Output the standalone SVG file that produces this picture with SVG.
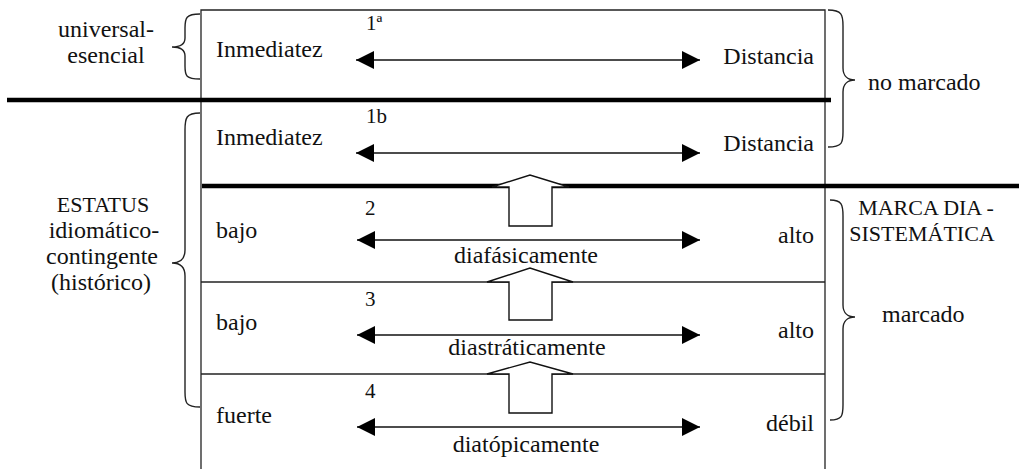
<svg xmlns="http://www.w3.org/2000/svg" width="1019" height="469" viewBox="0 0 1019 469">
<style>
text{font-family:"Liberation Serif","Times New Roman",serif;font-size:24px;fill:#111}
.num{font-size:21px}
.caps{font-size:22px}
.mid{text-anchor:middle}
.end{text-anchor:end}
.thin{stroke:#222;stroke-width:1.3;fill:none}
.thick{stroke:#000;stroke-width:4.5;fill:none}
.brace{stroke:#222;stroke-width:1.4;fill:none}
.dbl{stroke:#111;stroke-width:1.4;fill:none;marker-start:url(#ah);marker-end:url(#ah)}
.block{fill:#fff;stroke:#111;stroke-width:1.4}
</style>
<defs>
<marker id="ah" viewBox="0 0 18 18" refX="18" refY="9" markerWidth="18" markerHeight="18" markerUnits="userSpaceOnUse" orient="auto-start-reverse">
<path d="M0,0 L18,9 L0,18 Z" fill="#000"/>
</marker>
</defs>
<rect width="1019" height="469" fill="#fff"/>
<g id="frame">
<path class="thin" d="M201,469 V10 H825 V469"/>
<line class="thin" x1="201" y1="282" x2="825" y2="282"/>
<line class="thin" x1="201" y1="374" x2="825" y2="374"/>
<line class="thick" x1="7" y1="100" x2="831" y2="100"/>
<line class="thick" x1="202" y1="186" x2="1019" y2="186"/>
</g>
<g id="connectors">
<line class="dbl" x1="356" y1="60" x2="700" y2="60"/>
<line class="dbl" x1="356" y1="153" x2="700" y2="153"/>
<line class="dbl" x1="357" y1="240" x2="700" y2="240"/>
<line class="dbl" x1="357" y1="335" x2="700" y2="335"/>
<line class="dbl" x1="357" y1="427" x2="700" y2="427"/>
</g>
<g id="block-arrows">
<polygon class="block" points="509,226 509,187 492,187 530,175 569,187 552,187 552,226"/>
<polygon class="block" points="509,320 509,282 487,282 530,268 573,282 552,282 552,320"/>
<polygon class="block" points="509,413 509,374 487,374 530,362 573,374 552,374 552,413"/>
</g>
<g id="braces">
<path class="brace" d="M200,14 C186,14 185,18 185,28 L185,38 C185,45 180,47 172,47 C180,47 185,49 185,56 L185,66 C185,76 186,79 200,79"/>
<path class="brace" d="M200,113 C186,113 185,118 185,130 L185,250 C185,259 180,263 172,263 C180,263 185,267 185,276 L185,392 C185,403 186,407 200,407"/>
<path class="brace" d="M828,10 C842,10 843,15 843,26 L843,68 C843,76 848,80 855,80 C848,80 843,84 843,92 L843,132 C843,143 842,147 828,147"/>
<path class="brace" d="M830,200 C842,200 843,205 843,216 L843,305 C843,313 848,317 855,317 C848,317 843,321 843,329 L843,405 C843,416 842,420 830,420"/>
</g>
<g id="row-1a">
<text x="216" y="57">Inmediatez</text>
<text class="num" x="366" y="30">1ª</text>
<text class="end" x="814" y="64">Distancia</text>
</g>
<g id="row-1b">
<text x="216" y="145">Inmediatez</text>
<text class="num" x="366" y="123">1b</text>
<text class="end" x="814" y="151">Distancia</text>
</g>
<g id="row-2">
<text x="216" y="238">bajo</text>
<text class="num" x="365" y="215">2</text>
<text class="end" x="814" y="243">alto</text>
<text class="mid" x="526" y="263">diafásicamente</text>
</g>
<g id="row-3">
<text x="216" y="330">bajo</text>
<text class="num" x="365" y="306">3</text>
<text class="end" x="814" y="338">alto</text>
<text class="mid" x="527" y="355">diastráticamente</text>
</g>
<g id="row-4">
<text x="216" y="423">fuerte</text>
<text class="num" x="365" y="398">4</text>
<text class="end" x="814" y="431">débil</text>
<text class="mid" x="526" y="452">diatópicamente</text>
</g>
<g id="label-universal">
<text class="mid" x="106" y="37">universal-</text>
<text class="mid" x="106" y="63">esencial</text>
</g>
<g id="label-estatus">
<text class="mid caps" x="103" y="212">ESTATUS</text>
<text class="mid" x="104" y="238">idiomático-</text>
<text class="mid" x="102" y="264">contingente</text>
<text class="mid" x="101" y="290">(histórico)</text>
</g>
<g id="label-no-marcado">
<text x="868" y="90">no marcado</text>
</g>
<g id="label-marca">
<text class="mid caps" x="926" y="215">MARCA DIA -</text>
<text class="mid caps" x="922" y="241">SISTEMÁTICA</text>
<text x="882" y="322">marcado</text>
</g>
</svg>
